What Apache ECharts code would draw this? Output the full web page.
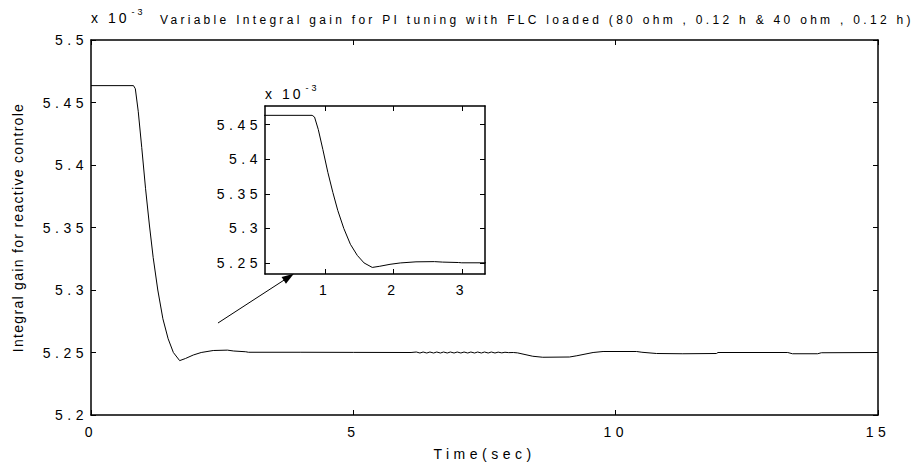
<!DOCTYPE html>
<html>
<head>
<meta charset="utf-8">
<script src="https://cdn.jsdelivr.net/npm/echarts@6.0.0/dist/echarts.min.js"></script>
<style>
  html, body { margin: 0; padding: 0; background: #fff; }
  #chart { width: 914px; height: 471px; }
  /* wide plotter-style lettering for ticks, axis names and title */
  #chart text[style*="Liberation Sans"] { letter-spacing: 4.5px; }
  #chart text[style*="sans-serif"] { letter-spacing: 3.3px; }
  #chart text[style*="Arial"] { letter-spacing: 1.3px; }
  #chart text[style*="Arimo"] { letter-spacing: 3px; }
</style>
</head>
<body>
<div id="chart"></div>
<script>
// Integral gain Ki (x 1e-3) against time, in phases: [time (s), gain]
const holdPhase = [[0, 5.4635], [0.81, 5.4635]];
const dropPhase = [
  [0.845, 5.461], [0.90, 5.443], [0.967, 5.414], [1.04, 5.381], [1.113, 5.352],
  [1.185, 5.326], [1.273, 5.300], [1.37, 5.277], [1.47, 5.261], [1.57, 5.250],
  [1.69, 5.2435]
];
const recoverPhase = [
  [1.80, 5.2452], [1.95, 5.2480], [2.10, 5.2500], [2.33, 5.2516], [2.60, 5.2519],
  [2.72, 5.2512], [2.95, 5.2506], [3.0, 5.2502], [4.0, 5.2502], [5.0, 5.2501],
  [6.1, 5.2500]
];
const ripplePhase = [
  [6.20, 5.2504], [6.27, 5.2496], [6.33, 5.2504], [6.40, 5.2496], [6.46, 5.2504],
  [6.53, 5.2496], [6.59, 5.2504], [6.66, 5.2496], [6.72, 5.2504], [6.79, 5.2496],
  [6.85, 5.2504], [6.92, 5.2496], [6.98, 5.2504], [7.05, 5.2496], [7.11, 5.2504],
  [7.18, 5.2496], [7.24, 5.2504], [7.31, 5.2496], [7.37, 5.2504], [7.44, 5.2496],
  [7.50, 5.2504], [7.57, 5.2496], [7.63, 5.2504], [7.70, 5.2496], [7.76, 5.2503],
  [7.83, 5.2497], [7.89, 5.2502], [7.96, 5.2499]
];
const dipPhase = [
  [8.05, 5.2500], [8.13, 5.2497], [8.42, 5.2470], [8.61, 5.2462], [9.12, 5.2464],
  [9.26, 5.2474], [9.57, 5.2500], [9.76, 5.2508], [10.4, 5.2508], [10.5, 5.2502],
  [10.78, 5.2492], [11.28, 5.2490], [11.92, 5.2492], [11.95, 5.2500]
];
const tailPhase = [
  [13.28, 5.2500], [13.37, 5.2490], [13.85, 5.2490], [13.92, 5.2498], [15, 5.2500]
];
const gainSeries = [].concat(holdPhase, dropPhase, recoverPhase, ripplePhase, dipPhase, tailPhase);

// axis ranges and ticks
const mainTimeRange = [0, 15];
const mainGainRange = [5.2, 5.5];
const insetTimeRange = [0.12, 3.34];
const insetGainRange = [5.234, 5.477];
const insetTimeTicks = [1, 2, 3];
const insetGainTicks = [5.25, 5.3, 5.35, 5.4, 5.45];

// arrow pointing from the settling region to the zoomed view
const arrowFrom = [2.42, 5.2736];
const arrowTo = [3.77, 5.3104];

const titleText = 'Variable Integral gain for PI tuning with FLC loaded (80 ohm , 0.12 h & 40 ohm , 0.12 h)';
const xName = 'Time(sec)';
const yName = 'Integral gain for reactive controle';

const ink = '#000';
const tickFont = { fontFamily: 'Liberation Sans', fontSize: 14, color: ink };
const scaleRich = {
  a: { fontFamily: 'Liberation Sans, Arimo', fontSize: 14, fontWeight: 'normal', color: ink,
       lineHeight: 18, verticalAlign: 'bottom' },
  s: { fontFamily: 'Liberation Sans, Arimo', fontSize: 9, fontWeight: 'normal', color: ink,
       verticalAlign: 'top', padding: [0, 0, 0, 14] }
};

function frameAxis(base) {
  return Object.assign({
    type: 'value',
    axisLine: { show: true, onZero: false, lineStyle: { color: ink, width: 1.5 } },
    axisTick: { show: true, inside: true, length: 5, lineStyle: { color: ink, width: 1 } },
    splitLine: { show: false },
    axisLabel: { show: false }
  }, base);
}

const chart = echarts.init(document.getElementById('chart'), null, { renderer: 'svg' });

chart.setOption({
  animation: false,
  backgroundColor: '#fff',
  title: [
    { text: '{a|x 10}{s|-3}', left: 91, top: 7, padding: 0,
      textStyle: { fontWeight: 'normal', rich: scaleRich } },
    { text: titleText, left: 160, top: 14, padding: 0,
      textStyle: { fontFamily: 'Liberation Sans, sans-serif', fontSize: 12, fontWeight: 'normal', color: ink } },
    { text: '{a|x 10}{s|-3}', left: 265, top: 83, padding: 0,
      textStyle: { fontWeight: 'normal', rich: scaleRich } }
  ],
  grid: [
    { left: 91, right: 36, top: 40, bottom: 56 },
    { left: 265, right: 429, top: 106, bottom: 197, show: true, backgroundColor: '#fff', borderWidth: 0, z: 5 }
  ],
  xAxis: [
    frameAxis({ gridIndex: 0, position: 'bottom', min: mainTimeRange[0], max: mainTimeRange[1], interval: 5,
      axisLabel: Object.assign({ show: true, margin: 10 }, tickFont),
      name: xName, nameLocation: 'middle', nameGap: 32, nameTextStyle: tickFont }),
    frameAxis({ gridIndex: 0, position: 'top', min: mainTimeRange[0], max: mainTimeRange[1], interval: 5 }),
    frameAxis({ gridIndex: 1, position: 'bottom', min: insetTimeRange[0], max: insetTimeRange[1], z: 6,
      axisTick: { show: true, inside: true, length: 5, customValues: insetTimeTicks, lineStyle: { color: ink } },
      axisLabel: Object.assign({ show: true, margin: 9, customValues: insetTimeTicks }, tickFont) }),
    frameAxis({ gridIndex: 1, position: 'top', min: insetTimeRange[0], max: insetTimeRange[1], z: 6,
      axisTick: { show: true, inside: true, length: 5, customValues: insetTimeTicks, lineStyle: { color: ink } } })
  ],
  yAxis: [
    frameAxis({ gridIndex: 0, position: 'left', min: mainGainRange[0], max: mainGainRange[1], interval: 0.05,
      axisLabel: Object.assign({ show: true, margin: 3 }, tickFont),
      name: yName, nameLocation: 'middle', nameGap: 66,
      nameTextStyle: { fontFamily: 'Arial', fontSize: 14, color: ink } }),
    frameAxis({ gridIndex: 0, position: 'right', min: mainGainRange[0], max: mainGainRange[1], interval: 0.05 }),
    frameAxis({ gridIndex: 1, position: 'left', min: insetGainRange[0], max: insetGainRange[1], z: 6,
      axisTick: { show: true, inside: true, length: 5, customValues: insetGainTicks, lineStyle: { color: ink } },
      axisLabel: Object.assign({ show: true, margin: 3, customValues: insetGainTicks }, tickFont) }),
    frameAxis({ gridIndex: 1, position: 'right', min: insetGainRange[0], max: insetGainRange[1], z: 6,
      axisTick: { show: true, inside: true, length: 5, customValues: insetGainTicks, lineStyle: { color: ink } } })
  ],
  series: [
    {
      type: 'line', xAxisIndex: 0, yAxisIndex: 0, data: gainSeries,
      showSymbol: false, lineStyle: { color: ink, width: 1 }, silent: true,
      markLine: {
        silent: true, symbol: ['none', 'triangle'], symbolSize: [8, 12],
        label: { show: false },
        lineStyle: { color: ink, width: 1, type: 'solid' },
        data: [[{ coord: arrowFrom }, { coord: arrowTo }]]
      }
    },
    {
      type: 'line', xAxisIndex: 2, yAxisIndex: 2, data: gainSeries, z: 7,
      showSymbol: false, lineStyle: { color: ink, width: 1 }, silent: true, clip: true
    }
  ]
});
</script>
</body>
</html>
